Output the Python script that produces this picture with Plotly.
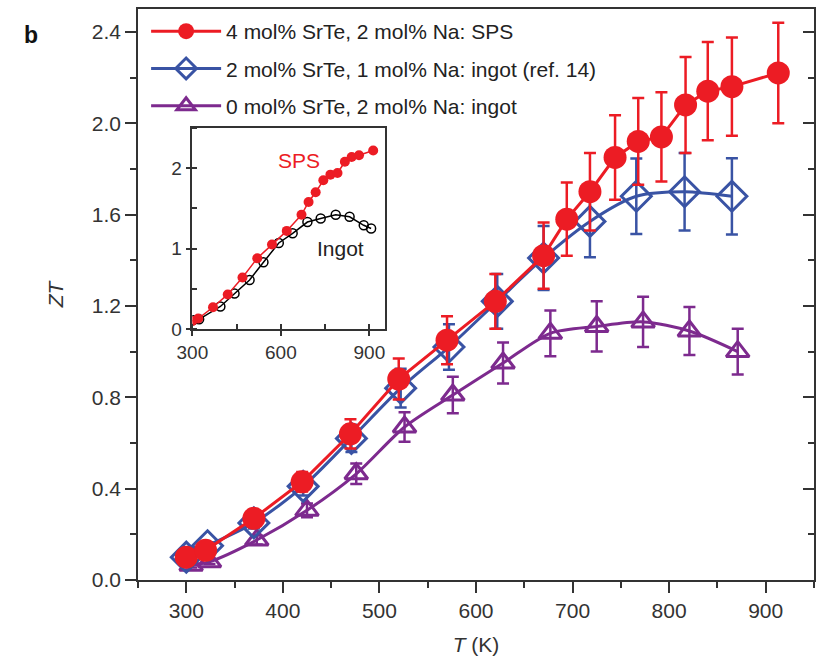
import plotly.graph_objects as go

# ---------------- data ----------------
T_sps = [300, 320, 370, 420, 470, 520, 570, 620, 670, 694, 718, 744, 768, 792, 817, 840, 865, 913]
zt_sps = [0.10, 0.13, 0.27, 0.43, 0.64, 0.88, 1.05, 1.22, 1.42, 1.58, 1.70, 1.85, 1.92, 1.94, 2.08, 2.14, 2.16, 2.22]
err_sps = [0.01, 0.013, 0.027, 0.043, 0.064, 0.09, 0.105, 0.12, 0.145, 0.16, 0.17, 0.185, 0.19, 0.195, 0.21, 0.215, 0.215, 0.22]

T_ref = [300, 322, 370, 421, 471, 522, 572, 622, 670, 718, 766, 816, 865]
zt_ref = [0.10, 0.15, 0.25, 0.41, 0.62, 0.84, 1.02, 1.22, 1.41, 1.57, 1.68, 1.70, 1.68]
err_ref = [0.01, 0.015, 0.025, 0.04, 0.06, 0.085, 0.10, 0.12, 0.14, 0.157, 0.165, 0.17, 0.167]

T_0sr = [305, 324, 373, 425, 476, 526, 576, 628, 677, 725, 773, 821, 871]
zt_0sr = [0.065, 0.08, 0.175, 0.305, 0.465, 0.67, 0.81, 0.95, 1.08, 1.11, 1.13, 1.09, 1.00]
err_0sr = [0.01, 0.01, 0.02, 0.03, 0.045, 0.065, 0.08, 0.09, 0.10, 0.11, 0.11, 0.105, 0.10]

T_ing = [303, 323, 395, 443, 494, 541, 593, 640, 690, 735, 786, 833, 881, 906]
zt_ing = [0.11, 0.12, 0.28, 0.44, 0.61, 0.83, 1.07, 1.19, 1.33, 1.375, 1.42, 1.395, 1.29, 1.25]

names = ["4 mol% SrTe, 2 mol% Na: SPS",
         "2 mol% SrTe, 1 mol% Na: ingot (ref. 14)",
         "0 mol% SrTe, 2 mol% Na: ingot"]

RED = "#EC1C24"
BLUE = "#3953A4"
PURPLE = "#7D2A8E"
AX = "#333333"
FONT = "Liberation Sans, Arial, Helvetica, sans-serif"

fig = go.Figure()

fig.add_trace(go.Scatter(
    x=T_0sr, y=zt_0sr, name=names[2], legendrank=3, legendgroup="c",
    mode="lines+markers", line=dict(color=PURPLE, width=3, shape="spline", smoothing=0.8),
    marker=dict(symbol="triangle-up-open", size=20, color=PURPLE, line=dict(width=3, color=PURPLE)),
    error_y=dict(type="data", array=err_0sr, color=PURPLE, thickness=2.5, width=6)))

fig.add_trace(go.Scatter(
    x=T_ref, y=zt_ref, name=names[1], legendrank=2, legendgroup="b",
    mode="lines+markers", line=dict(color=BLUE, width=3, shape="spline", smoothing=0.8),
    marker=dict(symbol="diamond-open", size=23, color=BLUE, line=dict(width=3, color=BLUE)),
    error_y=dict(type="data", array=err_ref, color=BLUE, thickness=2.5, width=6)))

fig.add_trace(go.Scatter(
    x=T_sps, y=zt_sps, name=names[0], legendrank=1, legendgroup="a",
    mode="lines+markers", line=dict(color=RED, width=3),
    marker=dict(symbol="circle", size=23, color=RED),
    error_y=dict(type="data", array=err_sps, color=RED, thickness=2.5, width=6)))

# right-side inward ticks (overlay axis, no labels)
fig.add_trace(go.Scatter(x=[None], y=[None], xaxis="x", yaxis="y3", showlegend=False))

# inset
fig.add_trace(go.Scatter(
    x=T_ing, y=zt_ing, xaxis="x2", yaxis="y2", showlegend=False, mode="lines+markers",
    line=dict(color="black", width=1.5),
    marker=dict(symbol="circle-open", size=9, color="black", line=dict(width=1.5, color="black"))))
fig.add_trace(go.Scatter(
    x=T_sps, y=zt_sps, xaxis="x2", yaxis="y2", showlegend=False, mode="lines+markers",
    line=dict(color=RED, width=1.5),
    marker=dict(symbol="circle", size=10, color=RED)))

ins_x = [0.0804, 0.3658]
ins_y = [0.4396, 0.7916]

fig.update_layout(
    width=817, height=661,
    margin=dict(l=138, r=1, t=9, b=81),
    paper_bgcolor="white", plot_bgcolor="white",
    font=dict(family=FONT, size=21, color=AX),
    showlegend=True,
    legend=dict(x=0.012, y=0.9965, xanchor="left", yanchor="top", bgcolor="rgba(0,0,0,0)",
                font=dict(size=21, color="#222"), itemwidth=70, tracegroupgap=7,
                traceorder="grouped"),
    xaxis=dict(domain=[0, 1], range=[250, 950], tickmode="linear", tick0=300, dtick=100,
               ticks="outside", ticklen=11, tickwidth=1.5, tickcolor=AX,
               showline=True, linewidth=1.5, linecolor=AX, mirror=True,
               showgrid=False, zeroline=False,
               minor=dict(tickmode="linear", tick0=250, dtick=50, ticks="outside", ticklen=6,
                          tickwidth=1.5, tickcolor=AX, showgrid=False),
               tickfont=dict(size=21, color=AX),
               title=dict(text="<i>T</i> (K)", font=dict(size=21, color=AX), standoff=16)),
    yaxis=dict(domain=[0, 1], range=[0, 2.5], tickmode="linear", tick0=0, dtick=0.4,
               tickformat=".1f", ticks="outside", ticklen=11, tickwidth=1.5, tickcolor=AX,
               showline=True, linewidth=1.5, linecolor=AX, mirror=True,
               showgrid=False, zeroline=False,
               minor=dict(tickmode="linear", tick0=0, dtick=0.2, ticks="outside", ticklen=6,
                          tickwidth=1.5, tickcolor=AX, showgrid=False),
               tickfont=dict(size=21, color=AX),
               title=dict(text="<i>ZT</i>", font=dict(size=21, color=AX), standoff=22)),
    yaxis3=dict(overlaying="y", side="right", anchor="x", range=[0, 2.5],
                tickmode="linear", tick0=0, dtick=0.4, ticks="inside", ticklen=11,
                tickwidth=1.5, tickcolor=AX, showticklabels=False, showline=False,
                showgrid=False, zeroline=False,
                minor=dict(tickmode="linear", tick0=0, dtick=0.2, ticks="inside", ticklen=6,
                           tickwidth=1.5, tickcolor=AX, showgrid=False)),
    xaxis2=dict(domain=ins_x, anchor="y2", range=[300, 954], tickmode="linear", tick0=300,
                dtick=300, ticks="outside", ticklen=5, tickwidth=1.5, tickcolor=AX,
                showline=True, linewidth=1.5, linecolor=AX, mirror=True,
                showgrid=False, zeroline=False,
                minor=dict(tickmode="linear", tick0=300, dtick=150, ticks="inside", ticklen=5,
                           tickwidth=1.5, tickcolor=AX, showgrid=False),
                tickfont=dict(size=19, color=AX)),
    yaxis2=dict(domain=ins_y, anchor="x2", range=[0, 2.5], tickmode="linear", tick0=0,
                dtick=1, ticks="outside", ticklen=5, tickwidth=1.5, tickcolor=AX,
                showline=True, linewidth=1.5, linecolor=AX, mirror=True,
                showgrid=False, zeroline=False,
                minor=dict(tickmode="linear", tick0=0, dtick=0.5, ticks="inside", ticklen=5,
                           tickwidth=1.5, tickcolor=AX, showgrid=False),
                tickfont=dict(size=19, color=AX)),
    annotations=[
        dict(text="<b>b</b>", xref="paper", yref="paper", x=-0.172, y=0.98,
             showarrow=False, font=dict(size=23, color="#111")),
        dict(text="SPS", xref="x2", yref="y2", x=662, y=2.1, showarrow=False,
             font=dict(size=21, color=RED)),
        dict(text="Ingot", xref="x2", yref="y2", x=803, y=1.0, showarrow=False,
             font=dict(size=21, color="#222")),
    ],
)

fig.write_html("out.html")
